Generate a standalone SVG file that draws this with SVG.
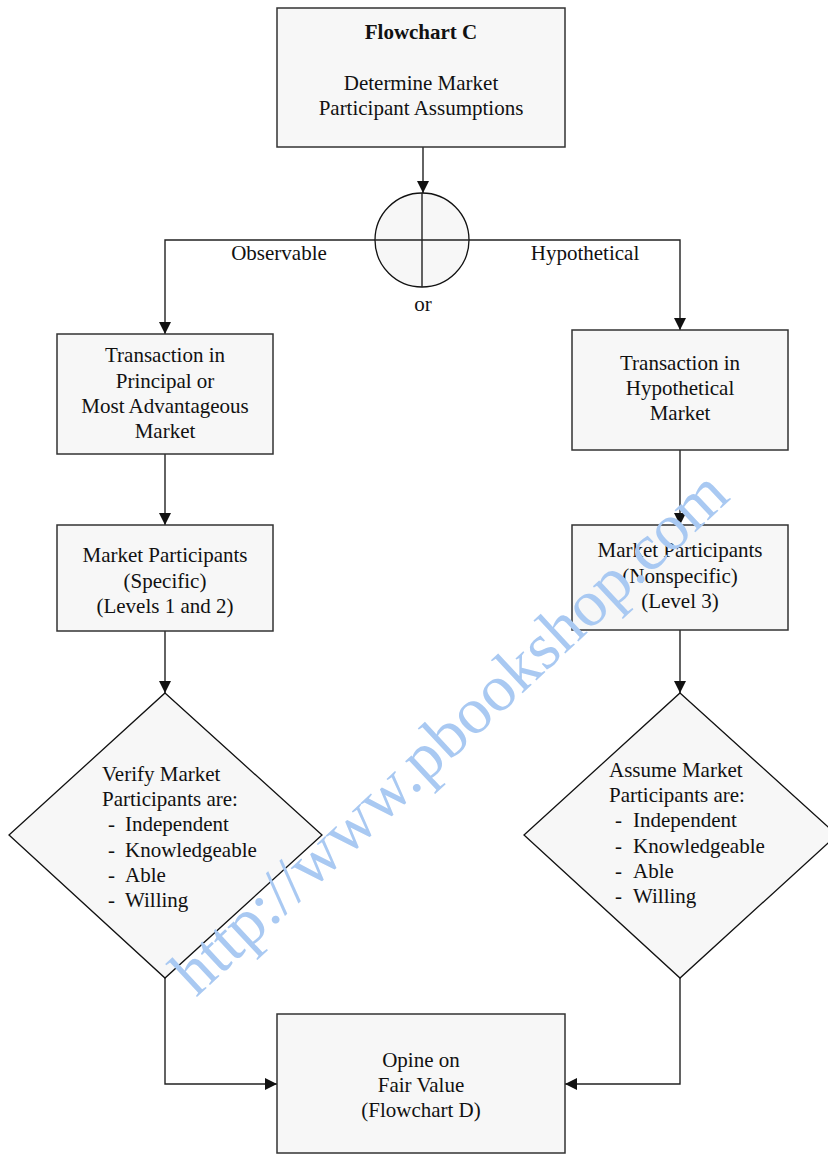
<svg xmlns="http://www.w3.org/2000/svg" width="828" height="1154" viewBox="0 0 828 1154">
  <style>
    .box { fill: #f7f7f7; stroke: #333; stroke-width: 1.5; }
    .dia { fill: #f7f7f7; stroke: #111; stroke-width: 1.3; }
    .ln { fill: none; stroke: #222; stroke-width: 1.4; }
    text { font-family: "Liberation Serif", "Times New Roman", serif; font-size: 21px; fill: #111; }
    .c { text-anchor: middle; }
    .b { font-weight: bold; }
    .wm { font-size: 66px; fill: #a9c9f2; }
  </style>
  <defs>
    <marker id="arr" viewBox="0 0 12 12" refX="12" refY="6" markerWidth="12" markerHeight="12" markerUnits="userSpaceOnUse" orient="auto">
      <path d="M0,0 L12,6 L0,12 Z" fill="#111"/>
    </marker>
  </defs>

  <!-- connectors -->
  <g id="connectors">
    <path class="ln" d="M423,147 V193" marker-end="url(#arr)"/>
    <path class="ln" d="M375,240 H165 V334" marker-end="url(#arr)"/>
    <path class="ln" d="M469,240 H680 V330" marker-end="url(#arr)"/>
    <path class="ln" d="M165,454 V525" marker-end="url(#arr)"/>
    <path class="ln" d="M680,450 V525" marker-end="url(#arr)"/>
    <path class="ln" d="M165,631 V693" marker-end="url(#arr)"/>
    <path class="ln" d="M680,630 V693" marker-end="url(#arr)"/>
    <path class="ln" d="M165,978 V1084 H277" marker-end="url(#arr)"/>
    <path class="ln" d="M680,978 V1084 H565" marker-end="url(#arr)"/>
    <text class="c" x="279" y="260">Observable</text>
    <text class="c" x="585" y="260">Hypothetical</text>
  </g>

  <g id="start">
    <rect class="box" x="277" y="8" width="288" height="139"/>
    <text class="c b" x="421" y="39">Flowchart C</text>
    <text class="c" x="421" y="90">Determine Market</text>
    <text class="c" x="421" y="115">Participant Assumptions</text>
  </g>

  <g id="or-junction">
    <circle cx="422" cy="240" r="47" fill="#f7f7f7" stroke="#111" stroke-width="1.3"/>
    <path class="ln" d="M422,193 V287 M375,240 H469"/>
    <text class="c" x="423" y="311">or</text>
  </g>

  <g id="principal-market">
    <rect class="box" x="57" y="334" width="216" height="120"/>
    <text class="c" x="165" y="362">Transaction in</text>
    <text class="c" x="165" y="388">Principal or</text>
    <text class="c" x="165" y="413">Most Advantageous</text>
    <text class="c" x="165" y="438">Market</text>
  </g>

  <g id="hypothetical-market">
    <rect class="box" x="572" y="330" width="216" height="120"/>
    <text class="c" x="680" y="370">Transaction in</text>
    <text class="c" x="680" y="395">Hypothetical</text>
    <text class="c" x="680" y="420">Market</text>
  </g>

  <g id="specific">
    <rect class="box" x="57" y="525" width="216" height="106"/>
    <text class="c" x="165" y="562">Market Participants</text>
    <text class="c" x="165" y="588">(Specific)</text>
    <text class="c" x="165" y="613">(Levels 1 and 2)</text>
  </g>

  <g id="nonspecific">
    <rect class="box" x="572" y="525" width="216" height="105"/>
    <text class="c" x="680" y="557">Market Participants</text>
    <text class="c" x="680" y="583">(Nonspecific)</text>
    <text class="c" x="680" y="608">(Level 3)</text>
  </g>

  <g id="verify">
    <path class="dia" d="M165,693 L322,835 L165,978 L9,835 Z"/>
    <text x="102" y="781">Verify Market</text>
    <text x="102" y="806">Participants are:</text>
    <text x="108" y="831">-</text><text x="125" y="831">Independent</text>
    <text x="108" y="857">-</text><text x="125" y="857">Knowledgeable</text>
    <text x="108" y="882">-</text><text x="125" y="882">Able</text>
    <text x="108" y="907">-</text><text x="125" y="907">Willing</text>
  </g>

  <g id="assume">
    <path class="dia" d="M680,693 L837,835 L680,978 L524,835 Z"/>
    <text x="609" y="777">Assume Market</text>
    <text x="609" y="802">Participants are:</text>
    <text x="615" y="827">-</text><text x="633" y="827">Independent</text>
    <text x="615" y="853">-</text><text x="633" y="853">Knowledgeable</text>
    <text x="615" y="878">-</text><text x="633" y="878">Able</text>
    <text x="615" y="903">-</text><text x="633" y="903">Willing</text>
  </g>

  <g id="fair-value">
    <rect class="box" x="277" y="1014" width="288" height="139"/>
    <text class="c" x="421" y="1067">Opine on</text>
    <text class="c" x="421" y="1092">Fair Value</text>
    <text class="c" x="421" y="1117">(Flowchart D)</text>
  </g>

  <text class="wm" transform="translate(196,998) rotate(-43)">http://www.pbookshop.com</text>
</svg>
